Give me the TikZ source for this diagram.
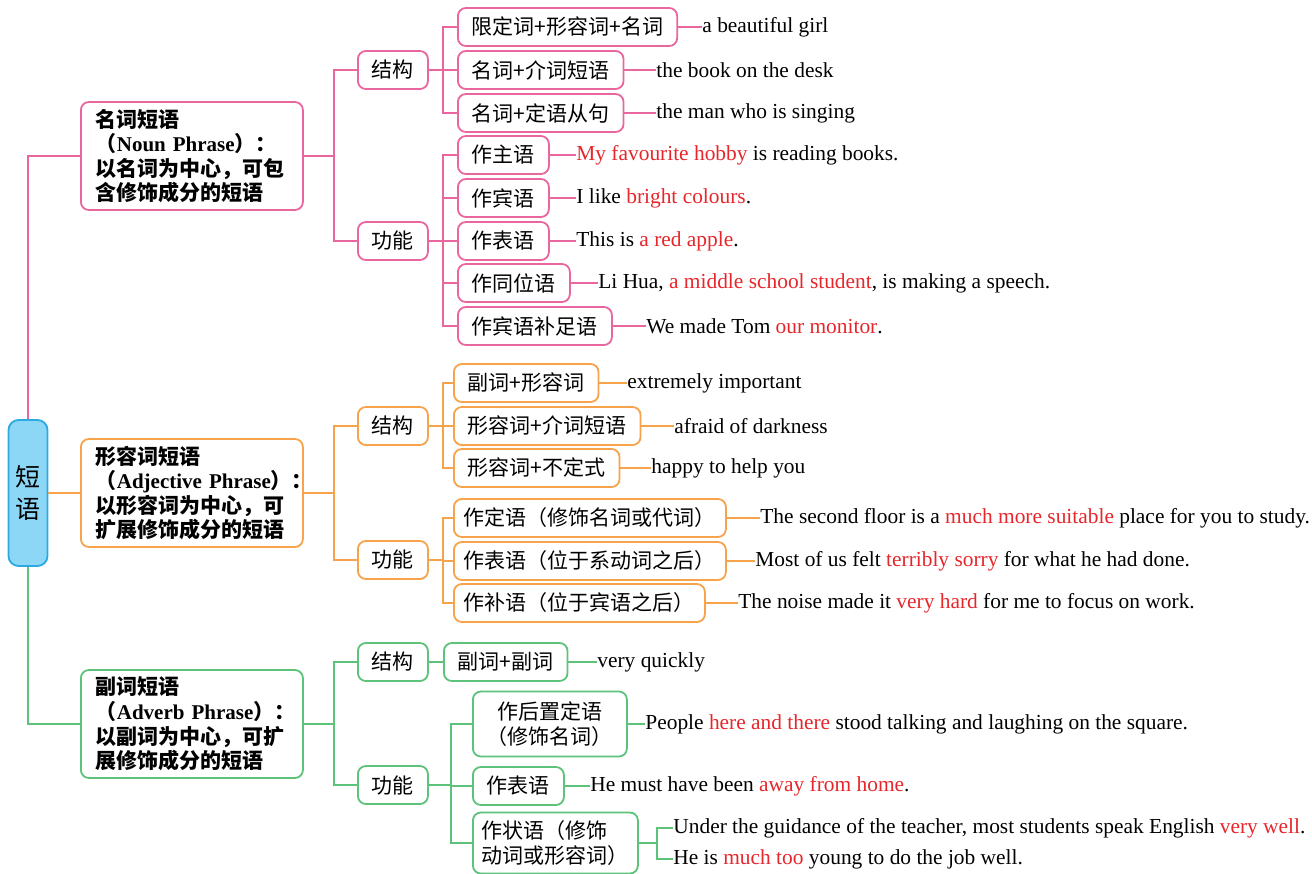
\documentclass[tikz,border=0pt]{standalone}
\usepackage{fontspec}
\usepackage{tikz}
\setmainfont{Liberation Serif}
\newfontfamily\cjk{Noto Sans CJK SC}

\definecolor{npink}{HTML}{E9669E}
\definecolor{adjorange}{HTML}{F6A34B}
\definecolor{advgreen}{HTML}{5DC27A}
\definecolor{rootblue}{HTML}{8CD6F6}
\definecolor{rootedge}{HTML}{2BA9E0}
\definecolor{keyred}{HTML}{E6262B}

\newcommand{\keyw}[1]{\textcolor{keyred}{#1}}

\tikzset{
  box/.style={draw, rounded corners=4pt, line width=0.9pt, fill=white, inner xsep=7pt,
    minimum height=19pt, anchor=west, text=black, font=\cjk\fontsize{10.5}{12.5}\selectfont},
  headbox/.style={box, text width=96pt, align=left, minimum height=54pt, inner xsep=7.5pt,
    font=\cjk\bfseries\fontsize{10.5}{12.3}\selectfont},
  midbox/.style={box, minimum width=33pt},
  eg/.style={anchor=west, inner sep=0pt, text=black, font=\fontsize{10.7}{12}\selectfont},
  link/.style={line width=0.9pt},
}

\begin{document}
\begin{tikzpicture}[x=0.5pt, y=-0.5pt]
        \useasboundingbox (0,0) rectangle (1312,873);

        \node [draw=rootedge, fill=rootblue, line width=0.9pt, rounded corners=5pt, minimum width=19.5pt,
          minimum height=73pt, align=center, font=\cjk\fontsize{12.5}{16}\selectfont] (root) at (28,493) {短\\语};

        \node [headbox, draw=npink] (NP) at (80,156) {名词短语\\\mbox{（\textrm{Noun Phrase}）：}\\以名词为中心，可包\\含修饰成分的短语};
        \node [midbox, draw=npink] (NPs) at (357,70) {结构};
        \node [midbox, draw=npink] (NPf) at (357,241) {功能};
        \node [box, draw=npink] (NPs1) at (457,27) {限定词+形容词+名词};
        \node [box, draw=npink] (NPs2) at (457,70) {名词+介词短语};
        \node [box, draw=npink] (NPs3) at (457,113) {名词+定语从句};
        \node [box, draw=npink] (NPf1) at (457,155) {作主语};
        \node [box, draw=npink] (NPf2) at (457,198) {作宾语};
        \node [box, draw=npink] (NPf3) at (457,241) {作表语};
        \node [box, draw=npink] (NPf4) at (457,283) {作同位语};
        \node [box, draw=npink] (NPf5) at (457,326) {作宾语补足语};
        \node [eg] (NPs1e) at (702,27) {a beautiful girl};
        \node [eg] (NPs2e) at (656,70) {the book on the desk};
        \node [eg] (NPs3e) at (656,113) {the man who is singing};
        \node [eg] (NPf1e) at (576,155) {\keyw{My favourite hobby} is reading books.};
        \node [eg] (NPf2e) at (576,198) {I like \keyw{bright colours}.};
        \node [eg] (NPf3e) at (576,241) {This is \keyw{a red apple}.};
        \node [eg] (NPf4e) at (598,283) {Li Hua, \keyw{a middle school student}, is making a speech.};
        \node [eg] (NPf5e) at (646,326) {We made Tom \keyw{our monitor}.};

        \node [headbox, draw=adjorange] (AP) at (80,493) {形容词短语\\\mbox{（\textrm{Adjective Phrase}）：}\\以形容词为中心，可\\扩展修饰成分的短语};
        \node [midbox, draw=adjorange] (APs) at (357,426) {结构};
        \node [midbox, draw=adjorange] (APf) at (357,560) {功能};
        \node [box, draw=adjorange] (APs1) at (453,383) {副词+形容词};
        \node [box, draw=adjorange] (APs2) at (453,426) {形容词+介词短语};
        \node [box, draw=adjorange] (APs3) at (453,468) {形容词+不定式};
        \node [box, draw=adjorange, inner xsep=5pt] (APf1) at (453,518) {作定语（修饰名词或代词）};
        \node [box, draw=adjorange, inner xsep=5pt] (APf2) at (453,561) {作表语（位于系动词之后）};
        \node [box, draw=adjorange, inner xsep=5pt] (APf3) at (453,603) {作补语（位于宾语之后）};
        \node [eg] (APs1e) at (627,383) {extremely important};
        \node [eg] (APs2e) at (674,426) {afraid of darkness};
        \node [eg] (APs3e) at (651,468) {happy to help you};
        \node [eg] (APf1e) at (760,518) {The second floor is a \keyw{much more suitable} place for you to study.};
        \node [eg] (APf2e) at (755,561) {Most of us felt \keyw{terribly sorry} for what he had done.};
        \node [eg] (APf3e) at (738,603) {The noise made it \keyw{very hard} for me to focus on work.};

        \node [headbox, draw=advgreen] (DP) at (80,724) {副词短语\\\mbox{（\textrm{Adverb Phrase}）：}\\以副词为中心，可扩\\展修饰成分的短语};
        \node [midbox, draw=advgreen] (DPs) at (357,662) {结构};
        \node [midbox, draw=advgreen] (DPf) at (357,785) {功能};
        \node [box, draw=advgreen] (DPs1) at (443,662) {副词+副词};
        \node [box, draw=advgreen, align=center, minimum height=32.5pt] (DPf1) at (472,724) {作后置定语\\（修饰名词）};
        \node [box, draw=advgreen] (DPf2) at (472,786) {作表语};
        \node [box, draw=advgreen, align=left, inner xsep=4.5pt, minimum height=30.5pt] (DPf3) at (472,843) {作状语（修饰\\动词或形容词）};
        \node [eg] (DPs1e) at (597,662) {very quickly};
        \node [eg] (DPf1e) at (645,724) {People \keyw{here and there} stood talking and laughing on the square.};
        \node [eg] (DPf2e) at (590,786) {He must have been \keyw{away from home}.};
        \node [eg] (DPf3a) at (673,828) {Under the guidance of the teacher, most students speak English \keyw{very well}.};
        \node [eg] (DPf3b) at (673,859) {He is \keyw{much too} young to do the job well.};

        \draw [link, npink] (root.north) |- (NP.west);
        \draw [link, adjorange] (root.east) -- (AP.west);
        \draw [link, advgreen] (root.south) |- (DP.west);

        \draw [link, npink] (NP.east) -- ++(30,0) |- (NPs.west);
        \draw [link, npink] (NP.east) -- ++(30,0) |- (NPf.west);
        \draw [link, npink] (NPs.east) -- ++(14,0) |- (NPs1.west);
        \draw [link, npink] (NPs.east) -- ++(14,0) |- (NPs2.west);
        \draw [link, npink] (NPs.east) -- ++(14,0) |- (NPs3.west);
        \draw [link, npink] (NPf.east) -- ++(14,0) |- (NPf1.west);
        \draw [link, npink] (NPf.east) -- ++(14,0) |- (NPf2.west);
        \draw [link, npink] (NPf.east) -- ++(14,0) |- (NPf3.west);
        \draw [link, npink] (NPf.east) -- ++(14,0) |- (NPf4.west);
        \draw [link, npink] (NPf.east) -- ++(14,0) |- (NPf5.west);
        \draw [link, npink] (NPs1.east) -- (NPs1e.west);
        \draw [link, npink] (NPs2.east) -- (NPs2e.west);
        \draw [link, npink] (NPs3.east) -- (NPs3e.west);
        \draw [link, npink] (NPf1.east) -- (NPf1e.west);
        \draw [link, npink] (NPf2.east) -- (NPf2e.west);
        \draw [link, npink] (NPf3.east) -- (NPf3e.west);
        \draw [link, npink] (NPf4.east) -- (NPf4e.west);
        \draw [link, npink] (NPf5.east) -- (NPf5e.west);

        \draw [link, adjorange] (AP.east) -- ++(30,0) |- (APs.west);
        \draw [link, adjorange] (AP.east) -- ++(30,0) |- (APf.west);
        \draw [link, adjorange] (APs.east) -- ++(14,0) |- (APs1.west);
        \draw [link, adjorange] (APs.east) -- ++(14,0) |- (APs2.west);
        \draw [link, adjorange] (APs.east) -- ++(14,0) |- (APs3.west);
        \draw [link, adjorange] (APf.east) -- ++(14,0) |- (APf1.west);
        \draw [link, adjorange] (APf.east) -- ++(14,0) |- (APf2.west);
        \draw [link, adjorange] (APf.east) -- ++(14,0) |- (APf3.west);
        \draw [link, adjorange] (APs1.east) -- (APs1e.west);
        \draw [link, adjorange] (APs2.east) -- (APs2e.west);
        \draw [link, adjorange] (APs3.east) -- (APs3e.west);
        \draw [link, adjorange] (APf1.east) -- (APf1e.west);
        \draw [link, adjorange] (APf2.east) -- (APf2e.west);
        \draw [link, adjorange] (APf3.east) -- (APf3e.west);

        \draw [link, advgreen] (DP.east) -- ++(30,0) |- (DPs.west);
        \draw [link, advgreen] (DP.east) -- ++(30,0) |- (DPf.west);
        \draw [link, advgreen] (DPs.east) -- (DPs1.west);
        \draw [link, advgreen] (DPf.east) -- ++(22,0) |- (DPf1.west);
        \draw [link, advgreen] (DPf.east) -- ++(22,0) |- (DPf2.west);
        \draw [link, advgreen] (DPf.east) -- ++(22,0) |- (DPf3.west);
        \draw [link, advgreen] (DPs1.east) -- (DPs1e.west);
        \draw [link, advgreen] (DPf1.east) -- (DPf1e.west);
        \draw [link, advgreen] (DPf2.east) -- (DPf2e.west);
        \draw [link, advgreen] (DPf3.east) -- ++(18,0) |- (DPf3a.west);
        \draw [link, advgreen] (DPf3.east) -- ++(18,0) |- (DPf3b.west);
    \end{tikzpicture}
\end{document}
